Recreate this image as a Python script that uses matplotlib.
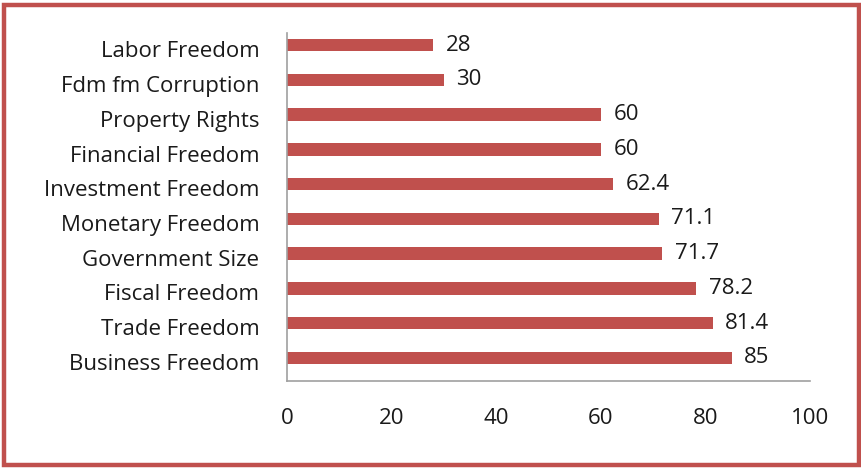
import matplotlib
matplotlib.use("Agg")
import matplotlib.pyplot as plt
import matplotlib.transforms as mtransforms
from matplotlib.patches import Rectangle
import numpy as np

# categories listed bottom to top
categories = ["Business Freedom", "Trade Freedom", "Fiscal Freedom", "Government Size",
              "Monetary Freedom", "Investment Freedom", "Financial Freedom",
              "Property Rights", "Fdm fm Corruption", "Labor Freedom"]
scores = [85, 81.4, 78.2, 71.7, 71.1, 62.4, 60, 60, 30, 28]
score_labels = ["85", "81.4", "78.2", "71.7", "71.1", "62.4", "60", "60", "30", "28"]
xticks = [0, 20, 40, 60, 80, 100]

red = "#C0504D"
fsize = 16
plt.rcParams['font.family'] = ['Open Sans', 'DejaVu Sans']

fig = plt.figure(figsize=(8.62, 4.68), dpi=100)
ax = fig.add_axes([0.333, 0.1865, 0.6067, 0.743])

y = np.arange(len(categories))
ax.barh(y, scores, height=0.36, color=red)
for yi, v, lab in zip(y, scores, score_labels):
    ax.annotate(lab, (v, yi), xytext=(9, 0), textcoords="offset points",
                va="center", ha="left", fontsize=fsize, color="#1a1a1a")

ax.set_ylim(-0.66, len(categories) - 0.65)
ax.set_xlim(0, 100)
ax.set_yticks(y)
ax.set_yticklabels(categories, fontsize=fsize, color="#1a1a1a")
ax.set_xticks(xticks)
ax.set_xticklabels([str(t) for t in xticks], fontsize=fsize, color="#1a1a1a")
ax.tick_params(axis="y", length=0, pad=20)
ax.tick_params(axis="x", length=0, pad=20)
for s in ["top", "right"]:
    ax.spines[s].set_visible(False)
for s in ["left", "bottom"]:
    ax.spines[s].set_color("#A0A0A0")
    ax.spines[s].set_linewidth(1.2)

# category names sit a little below the bar centres
shift = mtransforms.ScaledTranslation(0, -3 / 72, fig.dpi_scale_trans)
for lbl in ax.get_yticklabels():
    lbl.set_transform(lbl.get_transform() + shift)

# red frame round the chart
fig.patches.append(Rectangle((0.0045, 0.006), 0.9915, 0.984, transform=fig.transFigure,
                             fill=False, edgecolor=red, linewidth=3.2))

fig.savefig("out.png", dpi=100)
